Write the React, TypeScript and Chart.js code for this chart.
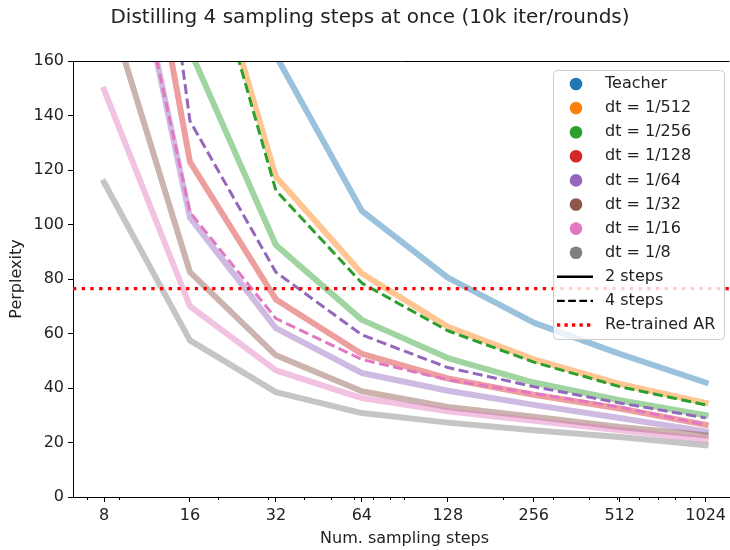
import React, { useEffect, useRef } from 'react';
import { Chart, registerables } from 'chart.js';

Chart.register(...registerables);

const chartTitle = 'Distilling 4 sampling steps at once (10k iter/rounds)';
const xLabel = 'Num. sampling steps';
const yLabel = 'Perplexity';

const steps = [8, 16, 32, 64, 128, 256, 512, 1024];
const xMinorTicks = [7, 9, 20, 30, 40, 50, 60, 70, 80, 90, 200, 300, 400, 500, 600, 700, 800, 900];
const yTickStep = 20;
const xMin = 6.23;
const xMax = 1242;
const yMin = 0;
const yMax = 160;

const teacher = [500, 280, 162, 105, 80.5, 64, 52.5, 42];
const dt512two = [400, 225, 117.5, 82, 62.5, 50.5, 41.5, 34.5];
const dt256two = [280, 164, 92.5, 65, 51, 42, 35.5, 30];
const dt256four = [380, 223, 112.5, 78.5, 61, 49.5, 40.5, 33.8];
const dt128two = [296, 123, 72.5, 52.5, 43.5, 37.5, 32.5, 26.5];
const dt64two = [252, 102.5, 62, 45.5, 39, 33.8, 29, 24];
const dt64four = [373, 138, 82.5, 59.5, 47.5, 40.5, 34.5, 29];
const dt32two = [185, 82.5, 52, 38.8, 33, 29.5, 25.7, 22.7];
const dt16two = [149.5, 70, 46.5, 36.3, 31.5, 28, 24.5, 21];
const dt16four = [249, 104.5, 65.5, 50.5, 43, 38, 33, 26.5];
const dt8two = [115.5, 57.5, 38.5, 30.8, 27.3, 24.5, 22, 19];
const retrainedAR = 76.5;

const seriesNames = ['Teacher', 'dt = 1/512', 'dt = 1/256', 'dt = 1/128', 'dt = 1/64', 'dt = 1/32', 'dt = 1/16', 'dt = 1/8'];
const styleNames = ['2 steps', '4 steps', 'Re-trained AR'];

const C = {
  blue: '#1f77b4',
  orange: '#ff7f0e',
  green: '#2ca02c',
  red: '#d62728',
  purple: '#9467bd',
  brown: '#8c564b',
  pink: '#e377c2',
  gray: '#7f7f7f',
};
const seriesColors = [C.blue, C.orange, C.green, C.red, C.purple, C.brown, C.pink, C.gray];

function alpha(hex: string, a: number) {
  const r = parseInt(hex.slice(1, 3), 16);
  const g = parseInt(hex.slice(3, 5), 16);
  const b = parseInt(hex.slice(5, 7), 16);
  return `rgba(${r},${g},${b},${a})`;
}

const SOLID_W = 6;
const SOLID_A = 0.45;
const DASH_W = 3;
const DASH = [10, 4.5];
const DOT_W = 3.3;
const DOT = [3.3, 5.4];

function solid(values: number[], color: string) {
  return {
    data: values.map((y, i) => ({ x: steps[i], y })),
    borderColor: alpha(color, SOLID_A),
    borderWidth: SOLID_W,
    borderDash: [],
    borderCapStyle: 'square',
    borderJoinStyle: 'round',
  };
}
function dashed(values: number[], color: string) {
  return {
    data: values.map((y, i) => ({ x: steps[i], y })),
    borderColor: color,
    borderWidth: DASH_W,
    borderDash: DASH,
    borderCapStyle: 'butt',
    borderJoinStyle: 'round',
  };
}

// matplotlib plot order (first = bottom)
const plotOrder: any[] = [
  solid(teacher, C.blue),
  solid(dt512two, C.orange),
  solid(dt256two, C.green),
  dashed(dt256four, C.green),
  solid(dt128two, C.red),
  solid(dt64two, C.purple),
  dashed(dt64four, C.purple),
  solid(dt32two, C.brown),
  solid(dt16two, C.pink),
  dashed(dt16four, C.pink),
  solid(dt8two, C.gray),
  {
    data: [
      { x: xMin, y: retrainedAR },
      { x: xMax, y: retrainedAR },
    ],
    borderColor: '#ff0000',
    borderWidth: DOT_W,
    borderDash: DOT,
    borderCapStyle: 'butt',
  },
];

const FONT = 'DejaVu Sans';
const TEXT = '#222';

const overlayPlugin = {
  id: 'overlay',
  afterDraw(chart: any) {
    const { ctx, chartArea, scales } = chart;
    ctx.save();
    // top spine
    ctx.strokeStyle = '#000';
    ctx.lineWidth = 1;
    ctx.setLineDash([]);
    ctx.beginPath();
    ctx.moveTo(chartArea.left, Math.round(chartArea.top) + 0.5);
    ctx.lineTo(chartArea.right, Math.round(chartArea.top) + 0.5);
    ctx.stroke();
    // minor ticks
    const xs = scales.x;
    ctx.beginPath();
    xMinorTicks.forEach((v) => {
      const px = Math.round(xs.getPixelForValue(v)) + 0.5;
      if (px < chartArea.left || px > chartArea.right) return;
      ctx.moveTo(px, chartArea.bottom);
      ctx.lineTo(px, chartArea.bottom + 3);
    });
    ctx.stroke();

    // texts
    ctx.fillStyle = TEXT;
    ctx.textAlign = 'center';
    ctx.textBaseline = 'middle';
    ctx.font = `20px "${FONT}"`;
    ctx.fillText(chartTitle, 370, 18);
    ctx.font = `16px "${FONT}"`;
    ctx.fillText(xLabel, (chartArea.left + 736) / 2, 539);
    ctx.save();
    ctx.translate(17, (chartArea.top + chartArea.bottom) / 2);
    ctx.rotate(-Math.PI / 2);
    ctx.fillText(yLabel, 0, 0);
    ctx.restore();

    // legend
    const bx = 553.5, by = 70.5, bw = 171, bh = 269, r = 4;
    ctx.beginPath();
    ctx.moveTo(bx + r, by);
    ctx.lineTo(bx + bw - r, by);
    ctx.arcTo(bx + bw, by, bx + bw, by + r, r);
    ctx.lineTo(bx + bw, by + bh - r);
    ctx.arcTo(bx + bw, by + bh, bx + bw - r, by + bh, r);
    ctx.lineTo(bx + r, by + bh);
    ctx.arcTo(bx, by + bh, bx, by + bh - r, r);
    ctx.lineTo(bx, by + r);
    ctx.arcTo(bx, by, bx + r, by, r);
    ctx.closePath();
    ctx.fillStyle = 'rgba(255,255,255,0.8)';
    ctx.fill();
    ctx.strokeStyle = '#cccccc';
    ctx.lineWidth = 1;
    ctx.stroke();

    const y0 = 84;
    const dy = 24.1;
    const mx = 576;
    const lx0 = 557, lx1 = 593;
    const tx = 605;
    ctx.textAlign = 'left';
    ctx.textBaseline = 'middle';
    ctx.font = `16px "${FONT}"`;
    seriesNames.forEach((name, i) => {
      const y = y0 + i * dy;
      ctx.beginPath();
      ctx.arc(mx, y, 6.3, 0, Math.PI * 2);
      ctx.fillStyle = seriesColors[i];
      ctx.fill();
      ctx.fillStyle = TEXT;
      ctx.fillText(name, tx, y);
    });
    const lineStyles = [
      { color: '#000', w: 2.4, dash: [] as number[] },
      { color: '#000', w: 2.4, dash: [7.7, 3.5] },
      { color: '#ff0000', w: DOT_W, dash: [3.3, 4.2] },
    ];
    styleNames.forEach((name, j) => {
      const y = y0 + (seriesNames.length + j) * dy;
      const st = lineStyles[j];
      ctx.beginPath();
      ctx.setLineDash(st.dash);
      ctx.strokeStyle = st.color;
      ctx.lineWidth = st.w;
      ctx.moveTo(lx0, y);
      ctx.lineTo(lx1, y);
      ctx.stroke();
      ctx.setLineDash([]);
      ctx.fillStyle = TEXT;
      ctx.fillText(name, tx, y);
    });
    ctx.restore();
  },
};

export default function App() {
  const ref = useRef<HTMLCanvasElement | null>(null);
  useEffect(() => {
    if (!ref.current) return;
    Chart.defaults.font.family = FONT;
    const chart = new Chart(ref.current, {
      type: 'line',
      data: {
        datasets: plotOrder.slice().reverse().map((d) => ({
          ...d,
          pointRadius: 0,
          pointHoverRadius: 0,
          fill: false,
          tension: 0,
          clip: 0,
        })),
      },
      options: {
        animation: false,
        responsive: false,
        maintainAspectRatio: false,
        events: [],
        layout: { padding: { top: 61, left: 0, right: 0, bottom: 0 } },
        plugins: {
          legend: { display: false },
          title: { display: false },
          tooltip: { enabled: false },
        },
        scales: {
          x: {
            type: 'logarithmic',
            min: xMin,
            max: xMax,
            afterBuildTicks: (s: any) => {
              s.ticks = steps.map((v) => ({ value: v }));
            },
            afterFit: (s: any) => {
              s.height = 53;
            },
            ticks: {
              callback: (v: any) => String(v),
              autoSkip: false,
              maxRotation: 0,
              minRotation: 0,
              padding: 4,
              color: TEXT,
              font: { size: 16, family: FONT },
            },
            grid: {
              display: true,
              drawOnChartArea: false,
              drawTicks: true,
              tickLength: 5,
              tickColor: '#000',
              tickWidth: 1,
            },
            border: { display: true, color: '#000', width: 1 },
          },
          y: {
            type: 'linear',
            min: yMin,
            max: yMax,
            afterFit: (s: any) => {
              s.width = 73;
            },
            ticks: {
              stepSize: yTickStep,
              padding: 4,
              color: TEXT,
              font: { size: 16, family: FONT },
            },
            grid: {
              display: true,
              drawOnChartArea: false,
              drawTicks: true,
              tickLength: 5,
              tickColor: '#000',
              tickWidth: 1,
            },
            border: { display: true, color: '#000', width: 1 },
          },
        },
      } as any,
      plugins: [overlayPlugin],
    } as any);
    return () => chart.destroy();
  }, []);
  return (
    <div style={{ position: 'fixed', left: 0, top: 0, width: 730, height: 550, background: '#fff' }}>
      <canvas ref={ref} width={730} height={550} style={{ display: 'block' }} />
    </div>
  );
}
